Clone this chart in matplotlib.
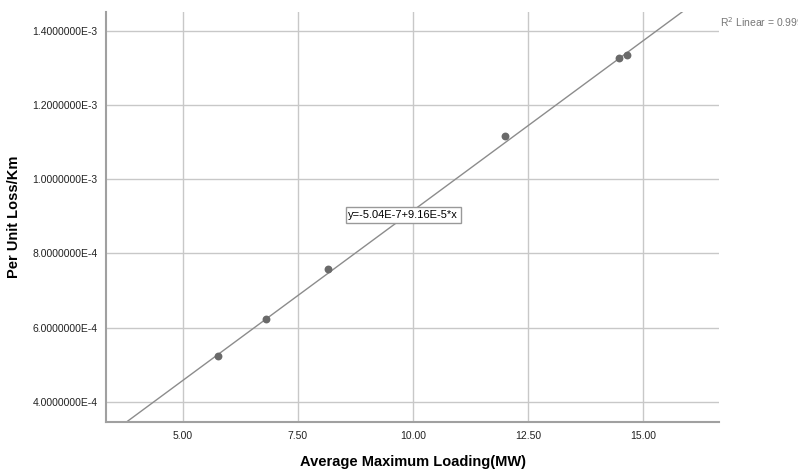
import matplotlib.pyplot as plt
import numpy as np

plt.rcParams['font.family'] = ['Liberation Sans', 'DejaVu Sans']

# data
loading = [5.77, 6.81, 8.15, 12.00, 14.47, 14.65]
loss = [5.245e-4, 6.22e-4, 7.58e-4, 1.1164e-3, 1.328e-3, 1.335e-3]
intercept = -5.04e-7
slope = 9.16e-5
xticks = [5.0, 7.5, 10.0, 12.5, 15.0]
yticks = [4e-4, 6e-4, 8e-4, 1e-3, 1.2e-3, 1.4e-3]

fig = plt.figure(figsize=(7.98, 4.73), dpi=100)
ax = fig.add_axes([106/798, 1-422.3/473, (719-106)/798, (422.3-11.7)/473])

xlim = (3.33, 16.65)
ylim = (3.445e-4, 1.452e-3)
ax.set_xlim(xlim)
ax.set_ylim(ylim)

ax.set_xticks(xticks)
ax.set_yticks(yticks)
ax.set_xticklabels(['%.2f' % t for t in xticks])
ax.set_yticklabels(['%.7fE-%d' % (t * 10**int(-np.floor(np.log10(t))), int(-np.floor(np.log10(t)))) for t in yticks])
ax.tick_params(length=0, labelsize=7.5, colors='#222222', pad=6)
ax.grid(True, color='#c8c8c8', linewidth=1)
ax.set_axisbelow(True)

for s in ['top', 'right']:
    ax.spines[s].set_visible(False)
for s in ['left', 'bottom']:
    ax.spines[s].set_color('#a0a0a0')
    ax.spines[s].set_linewidth(1.5)

# fit line across whole axis
xs = np.array(xlim)
ax.plot(xs, intercept + slope * xs, color='#8c8c8c', linewidth=1)
ax.scatter(loading, loss, s=32, color='#6a6a6a', zorder=3, linewidths=0)

ax.text(9.79, 9.04e-4, 'y=-5.04E-7+9.16E-5*x', fontsize=8, ha='center', va='center',
        bbox=dict(boxstyle='square,pad=0.25', facecolor='white', edgecolor='#999999', linewidth=1))

ax.set_xlabel('Average Maximum Loading(MW)', fontsize=10.5, fontweight='bold', labelpad=10)
ax.set_ylabel('Per Unit Loss/Km', fontsize=10.5, fontweight='bold', labelpad=8)

fig.text(720/798, 1-22/473, 'R$^2$ Linear = 0.999', fontsize=7.5, color='#777777', va='center', ha='left')

fig.savefig('out.png', dpi=100)
